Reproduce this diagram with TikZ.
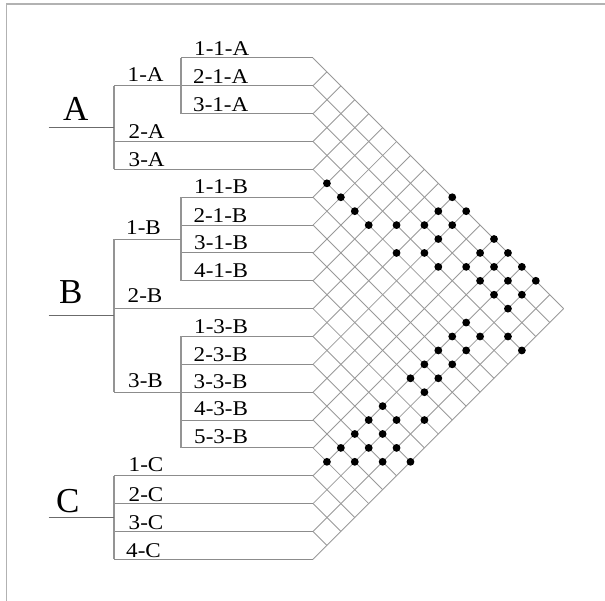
\documentclass[tikz,border=0pt]{standalone}
\usepackage{fontspec}
\setmainfont{Liberation Serif}
\begin{document}
\begin{tikzpicture}[x=1pt,y=-1pt,
  rowline/.style={draw=black!45, line width=1pt},
  stubline/.style={draw=black!58, line width=0.9pt},
  vline/.style={draw=black!42, line width=1.7pt},
  gridline/.style={draw=black!40, line width=0.85pt},
  framel/.style={draw=black!30, line width=1.8pt},
  lbl/.style={anchor=base west, inner sep=0pt, font=\fontsize{21}{25}\selectfont},
  big/.style={anchor=base west, inner sep=0pt, font=\fontsize{35}{40}\selectfont},
  dot/.style={fill=black}]
\useasboundingbox (0,0) rectangle (605,601);
\def\h{13.925}
\def\X{313}
\def\XL{114}
\def\XM{181}
% frame (top and left edges only)
\coordinate (f1) at (6.5,601);
\coordinate (f2) at (6.5,4.3);
\coordinate (f3) at (605,4.3);
\draw[framel] (f1) -- (f2) -- (f3);
% row end points
\foreach \k in {0,...,18}{
  \coordinate (r\k) at (\X,{58+2*\k*\h});
}
% row start points
\foreach \k in {0,2,5,6,7,8,10,11,13,14}{
  \coordinate (s\k) at (\XM,{58+2*\k*\h});
}
\foreach \k in {1,3,4,9,12,15,16,17,18}{
  \coordinate (s\k) at (\XL,{58+2*\k*\h});
}
% matrix grid
\foreach \k in {0,...,18}{
  \pgfmathsetmacro\dn{18-\k}
  \draw[gridline] (r\k) -- ++({\dn*\h},{\dn*\h});
  \draw[gridline] (r\k) -- ++({\k*\h},{-\k*\h});
}
% row lines
\foreach \k in {0,...,18}{
  \draw[rowline] (s\k) -- (r\k);
}
% tree: group A
\coordinate (a1) at (\XM,{58});
\coordinate (a2) at (\XM,{58+4*\h});
\draw[vline] (a1) -- (a2);
\coordinate (av1) at (\XL,{58+2*\h});
\coordinate (av2) at (\XL,{58+8*\h});
\draw[vline] (av1) -- (av2);
\coordinate (aj) at (\XL,{58+5*\h});
\coordinate (ae) at (48.5,{58+5*\h});
\draw[stubline] (ae) -- (aj);
% group B
\coordinate (b1a) at (\XM,{58+10*\h});
\coordinate (b1b) at (\XM,{58+16*\h});
\draw[vline] (b1a) -- (b1b);
\coordinate (b1m) at (\XM,{58+13*\h});
\coordinate (bv1) at (\XL,{58+13*\h});
\draw[rowline] (bv1) -- (b1m);
\coordinate (b3a) at (\XM,{58+20*\h});
\coordinate (b3b) at (\XM,{58+28*\h});
\draw[vline] (b3a) -- (b3b);
\coordinate (bv2) at (\XL,{58+24*\h});
\draw[vline] (bv1) -- (bv2);
\coordinate (bj) at (\XL,{58+18.5*\h});
\coordinate (be) at (48.5,{58+18.5*\h});
\draw[stubline] (be) -- (bj);
% group C
\coordinate (cv1) at (\XL,{58+30*\h});
\coordinate (cv2) at (\XL,{58+36*\h});
\draw[vline] (cv1) -- (cv2);
\coordinate (cj) at (\XL,{58+33*\h});
\coordinate (ce) at (48.5,{58+33*\h});
\draw[stubline] (ce) -- (cj);
% dots
\foreach \m/\n in {1/9,2/10,3/11,4/12,6/12,8/12,10/10,9/11,11/11,10/12,9/13,6/14,8/14,9/15,11/15,13/13,12/14,14/14,13/15,15/15,12/16,14/16,16/16,13/17,15/17,14/18,
  11/19,10/20,12/20,14/20,9/21,11/21,15/21,8/22,10/22,7/23,9/23,8/24,5/25,4/26,6/26,8/26,3/27,5/27,2/28,4/28,6/28,1/29,3/29,5/29,7/29}{
  \fill[dot] ({\X+\m*\h},{58+\n*\h}) circle (3.9pt);
}
% big labels
\node[big] (lA) at (63,120.7) {A};
\node[big] (lB) at (59,303.3) {B};
\node[big] (lC) at (56,512.7) {C};
% second-level labels
\newcommand{\wl}[1]{\scalebox{1.1}[1]{#1}}
\node[lbl] (l1A) at (127.5,81.7) {\wl{1-A}};
\node[lbl] (l2A) at (128.5,138.3) {\wl{2-A}};
\node[lbl] (l3A) at (128.5,166.5) {\wl{3-A}};
\node[lbl] (l1B) at (126,234.3) {\wl{1-B}};
\node[lbl] (l2B) at (127.5,302.5) {\wl{2-B}};
\node[lbl] (l3B) at (128,387.2) {\wl{3-B}};
\node[lbl] (l1C) at (128.5,471.7) {\wl{1-C}};
\node[lbl] (l2C) at (128.5,501.5) {\wl{2-C}};
\node[lbl] (l3C) at (128.5,529.2) {\wl{3-C}};
\node[lbl] (l4C) at (126,557) {\wl{4-C}};
% third-level labels
\node[lbl] (l11A) at (194,55.5) {\wl{1-1-A}};
\node[lbl] (l21A) at (193,84) {\wl{2-1-A}};
\node[lbl] (l31A) at (193,111.7) {\wl{3-1-A}};
\node[lbl] (l11B) at (194,193.3) {\wl{1-1-B}};
\node[lbl] (l21B) at (193.3,222.2) {\wl{2-1-B}};
\node[lbl] (l31B) at (194,249.5) {\wl{3-1-B}};
\node[lbl] (l41B) at (194,277.5) {\wl{4-1-B}};
\node[lbl] (l13B) at (194,333.3) {\wl{1-3-B}};
\node[lbl] (l23B) at (193.5,361.7) {\wl{2-3-B}};
\node[lbl] (l33B) at (193.5,388.3) {\wl{3-3-B}};
\node[lbl] (l43B) at (194,416) {\wl{4-3-B}};
\node[lbl] (l53B) at (194,443.3) {\wl{5-3-B}};
\end{tikzpicture}
\end{document}
